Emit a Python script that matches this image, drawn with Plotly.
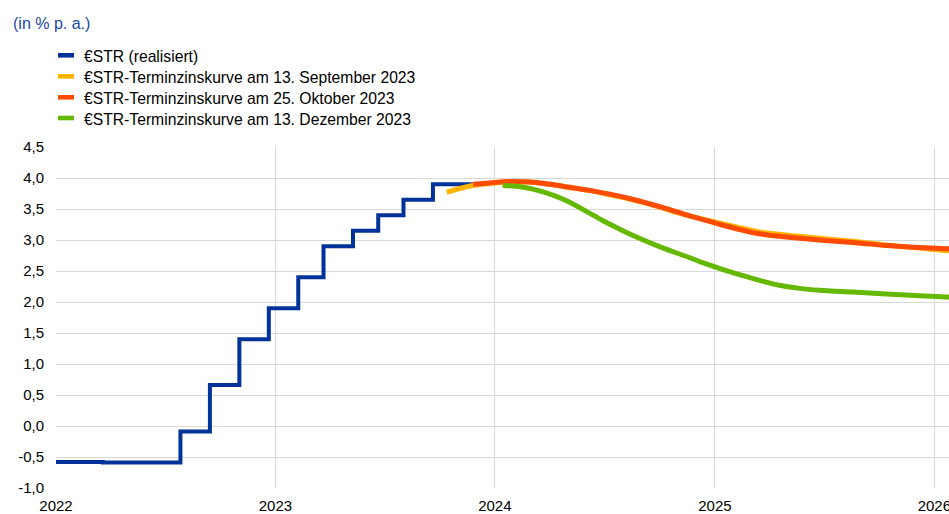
import plotly.graph_objects as go

# ---- data ----
estr_dates = ["2022-01-01", "2022-03-20", "2022-07-27", "2022-09-14", "2022-11-02",
              "2022-12-21", "2023-02-08", "2023-03-22", "2023-05-10", "2023-06-21",
              "2023-08-02", "2023-09-20", "2023-11-30"]
estr_values = [-0.58, -0.59, -0.09, 0.66, 1.40, 1.90, 2.40, 2.90, 3.15, 3.40, 3.65, 3.90, 3.90]

sep_dates = ["2023-10-13", "2023-11-21", "2023-12-23", "2024-01-25", "2024-02-27",
             "2024-04-01", "2024-05-04", "2024-06-06", "2024-07-10", "2024-08-12",
             "2024-09-14", "2024-10-18", "2024-11-20", "2024-12-23", "2025-01-10",
             "2025-02-11", "2025-03-16", "2025-04-30", "2025-06-24", "2025-08-18",
             "2025-10-13", "2025-12-07", "2026-01-21", "2026-02-10"]
sep_values = [3.77, 3.87, 3.91, 3.94, 3.935, 3.90, 3.85, 3.80, 3.73, 3.66,
              3.58, 3.48, 3.39, 3.31, 3.27, 3.20, 3.13, 3.08, 3.03, 2.98,
              2.92, 2.87, 2.83, 2.82]

oct_dates = ["2023-11-26", "2023-12-23", "2024-01-25", "2024-02-27", "2024-04-01",
             "2024-05-04", "2024-06-06", "2024-07-10", "2024-08-12", "2024-09-14",
             "2024-10-18", "2024-11-20", "2024-12-23", "2025-01-10", "2025-02-11",
             "2025-03-16", "2025-04-30", "2025-06-24", "2025-08-18", "2025-10-13",
             "2025-12-07", "2026-01-21", "2026-02-10"]
oct_values = [3.90, 3.92, 3.945, 3.935, 3.90, 3.85, 3.80, 3.74, 3.67, 3.585,
              3.49, 3.39, 3.30, 3.25, 3.17, 3.10, 3.05, 3.00, 2.96, 2.91,
              2.88, 2.86, 2.85]

dec_dates = ["2024-01-14", "2024-02-16", "2024-03-20", "2024-04-23", "2024-05-27",
             "2024-06-29", "2024-08-01", "2024-09-04", "2024-10-07", "2024-11-10",
             "2024-12-13", "2025-01-12", "2025-02-11", "2025-03-16", "2025-04-18",
             "2025-05-22", "2025-06-24", "2025-08-18", "2025-10-13", "2025-12-07",
             "2026-01-21", "2026-02-10"]
dec_values = [3.88, 3.855, 3.78, 3.66, 3.49, 3.31, 3.15, 3.00, 2.87, 2.75,
              2.63, 2.53, 2.44, 2.35, 2.27, 2.22, 2.19, 2.16, 2.13, 2.10,
              2.08, 2.075]

series_names = ["€STR (realisiert)",
                "€STR-Terminzinskurve am 13. September 2023",
                "€STR-Terminzinskurve am 25. Oktober 2023",
                "€STR-Terminzinskurve am 13. Dezember 2023"]
colors = ["#003299", "#FFB400", "#FF4B00", "#65B800"]

y_tickvals = [-1.0, -0.5, 0.0, 0.5, 1.0, 1.5, 2.0, 2.5, 3.0, 3.5, 4.0, 4.5]
y_ticktext = ["-1,0", "-0,5", "0,0", "0,5", "1,0", "1,5", "2,0", "2,5", "3,0", "3,5", "4,0", "4,5"]
x_tickvals = ["2022-01-01", "2023-01-01", "2024-01-01", "2025-01-01", "2026-01-01"]
x_ticktext = ["2022", "2023", "2024", "2025", "2026"]
title_text = "(in % p. a.)"

# ---- layout helpers (pixel -> paper) ----
# figure is a bit wider than the 949px window so that the "2026" label is drawn
# and then clipped by the window edge, as in the reference.
L, R, T, B = 56, 949, 147, 488
W, H = 975, 514
def pxx(x):
    return (x - L) / (R - L)
def pxy(y):
    return (B - y) / (B - T)

FONT = "Liberation Sans, Arial, sans-serif"

fig = go.Figure()
fig.add_trace(go.Scatter(x=estr_dates, y=estr_values, mode="lines", line_shape="hv",
                         line=dict(color=colors[0], width=4), name=series_names[0],
                         showlegend=False))
fig.add_trace(go.Scatter(x=sep_dates, y=sep_values, mode="lines", line_shape="spline",
                         line=dict(color=colors[1], width=5), name=series_names[1],
                         showlegend=False))
fig.add_trace(go.Scatter(x=oct_dates, y=oct_values, mode="lines", line_shape="spline",
                         line=dict(color=colors[2], width=5), name=series_names[2],
                         showlegend=False))
fig.add_trace(go.Scatter(x=dec_dates, y=dec_values, mode="lines", line_shape="spline",
                         line=dict(color=colors[3], width=5), name=series_names[3],
                         showlegend=False))

shapes = []
annotations = []
row_y = [55.3, 76.3, 97.3, 118.0]
for name, col, ry in zip(series_names, colors, row_y):
    shapes.append(dict(type="rect", xref="paper", yref="paper",
                       x0=pxx(58), x1=pxx(74), y0=pxy(ry + 2.3), y1=pxy(ry - 2.3),
                       fillcolor=col, line=dict(width=0), layer="above"))
    annotations.append(dict(text=name, xref="paper", yref="paper", x=pxx(82), y=pxy(ry + 1),
                            xanchor="left", yanchor="middle", showarrow=False,
                            font=dict(family=FONT, size=15.7, color="#000000")))
annotations.append(dict(text=title_text, xref="paper", yref="paper", x=pxx(11), y=pxy(23.5),
                        xanchor="left", yanchor="middle", showarrow=False,
                        font=dict(family=FONT, size=16, color="#1A4AA0")))

fig.update_layout(
    width=W, height=H, autosize=False,
    margin=dict(l=L, r=W - R, t=T, b=H - B, pad=0, autoexpand=False),
    paper_bgcolor="white", plot_bgcolor="white",
    font=dict(family=FONT, size=15, color="#000000"),
    shapes=shapes, annotations=annotations,
    showlegend=False,
)
fig.update_xaxes(type="date", range=["2022-01-01", "2026-01-25 10:00"],
                 tickvals=x_tickvals, ticktext=x_ticktext, automargin=False,
                 showgrid=True, gridcolor="#D9D9D9", gridwidth=1,
                 zeroline=False, showline=False, ticks="", ticklen=0,
                 ticklabelstandoff=7,
                 tickfont=dict(family=FONT, size=15, color="#000000"))
fig.update_yaxes(range=[-1.0, 4.5], tickvals=y_tickvals, ticktext=y_ticktext,
                 automargin=False,
                 showgrid=True, gridcolor="#D9D9D9", gridwidth=1,
                 zeroline=False, showline=False, ticks="",
                 ticklabelstandoff=11,
                 tickfont=dict(family=FONT, size=15, color="#000000"))

fig.write_html("out.html", config={"displayModeBar": False},
               post_script="document.body.style.margin='0';document.body.style.overflow='hidden';")
